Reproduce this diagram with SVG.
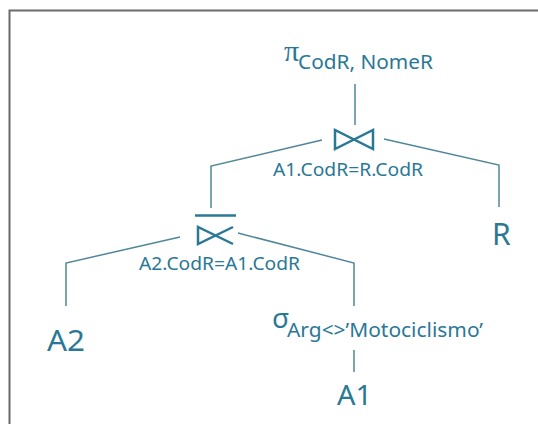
<svg xmlns="http://www.w3.org/2000/svg" width="538" height="424" viewBox="0 0 538 424">
<style>
.t{font-family:"Noto Sans","Liberation Sans",sans-serif;fill:#2a7896}
.g{font-family:"Liberation Serif","DejaVu Serif",serif;fill:#2a7896}
.c{fill:none;stroke:#4f8799;stroke-width:1.5}
.op{fill:none;stroke:#2a7896;stroke-width:2.5;stroke-linejoin:miter}
</style>
<rect x="0" y="0" width="538" height="424" fill="#ffffff"/>
<path d="M9.5,424 V10.5 H538" fill="none" stroke="#6b6b6b" stroke-width="2"/>
<g id="connectors">
<line class="c" x1="355" y1="84" x2="355" y2="125"/>
<polyline class="c" points="322,140 211,166 211,208"/>
<polyline class="c" points="384,139 499,165 499,207"/>
<polyline class="c" points="180,237 66,263 66,306"/>
<polyline class="c" points="238,233 354,263 354,306"/>
<line class="c" x1="354" y1="350" x2="354" y2="372"/>
</g>
<g id="projection">
<text class="g" x="284" y="61" font-size="30">π</text>
<text class="t" x="298" y="69" font-size="19" textLength="135" lengthAdjust="spacingAndGlyphs">CodR, NomeR</text>
</g>
<g id="join1">
<path class="op" d="M335,130 L335,149 L373,130 L373,149 Z"/>
<text class="t" x="273" y="176" font-size="17.5" textLength="150" lengthAdjust="spacingAndGlyphs">A1.CodR=R.CodR</text>
</g>
<g id="semijoin">
<line class="op" x1="195" y1="215.5" x2="236" y2="215.5"/>
<path class="op" d="M233,227 L198,244 L198,227 L233,244"/>
<text class="t" x="139" y="270" font-size="17.5" textLength="161" lengthAdjust="spacingAndGlyphs">A2.CodR=A1.CodR</text>
</g>
<g id="R">
<text class="t" x="492" y="245" font-size="30">R</text>
</g>
<g id="A2">
<text class="t" x="47" y="351" font-size="29" textLength="38" lengthAdjust="spacingAndGlyphs">A2</text>
</g>
<g id="selection">
<text class="t" x="272" y="328" font-size="28">σ</text>
<text class="t" x="287" y="337" font-size="20" textLength="196" lengthAdjust="spacingAndGlyphs">Arg&lt;&gt;’Motociclismo’</text>
</g>
<g id="A1">
<text class="t" x="337" y="405" font-size="28" textLength="35" lengthAdjust="spacingAndGlyphs">A1</text>
</g>
</svg>
